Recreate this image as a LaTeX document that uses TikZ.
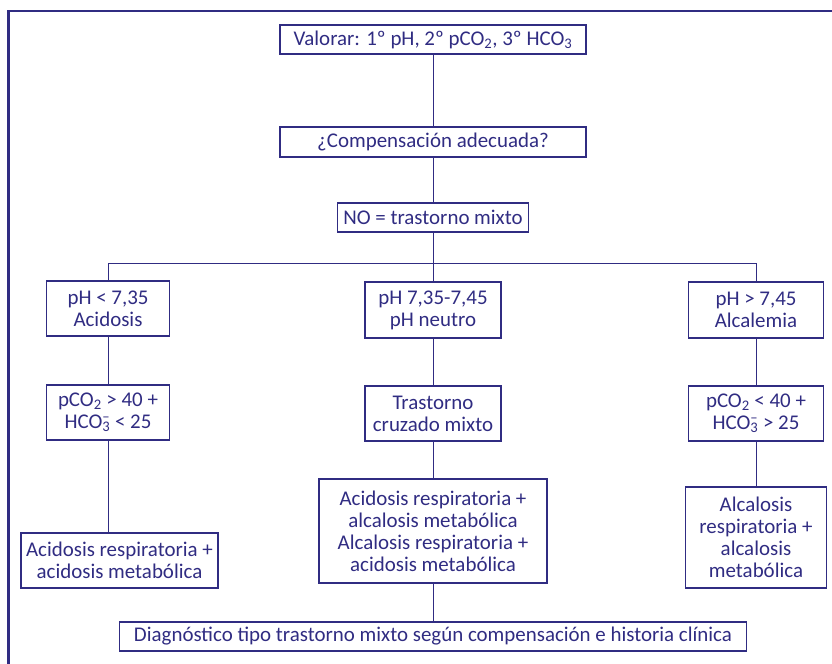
\documentclass[tikz,border=0pt]{standalone}
\usepackage{fontspec}
\setmainfont{Carlito}
\usepackage{xcolor}
\definecolor{inkblue}{HTML}{302C82}
\newcommand{\bicarb}{HCO\rlap{\textsuperscript{--}}\textsubscript{3}}

\begin{document}
\begin{tikzpicture}[x=1bp, y=-1bp,
    stepBox/.style={draw=inkblue, line width=1.1bp, text=inkblue, font=\fontsize{21}{22}\selectfont, align=center, inner sep=2bp},
    linkStyle/.style={draw=inkblue, line width=0.9bp}
]
    \useasboundingbox (0,0) rectangle (832,664);
    % page frame, cut by the picture edge
    \draw[inkblue, line width=2.6bp] (832,11) -- (8.5,11) -- (8.5,664);

    \node[stepBox, minimum width=306bp, minimum height=29bp] (valorar) at (433,39.5) {Valorar: 1º pH, 2º pCO\textsubscript{2}, 3º HCO\textsubscript{3}};
    \node[stepBox, minimum width=306bp, minimum height=30bp] (compensa) at (433,142) {¿Compensación adecuada?};
    \node[stepBox, minimum width=191bp, minimum height=29bp] (mixto) at (433,217.5) {NO = trastorno mixto};

    \node[stepBox, minimum width=123bp, minimum height=55bp] (acidosis) at (108,308.5) {pH < 7,35\\Acidosis};
    \node[stepBox, minimum width=136bp, minimum height=56bp] (neutro) at (433,310) {pH 7,35-7,45\\pH neutro};
    \node[stepBox, minimum width=135bp, minimum height=56bp] (alcalemia) at (756,310) {pH > 7,45\\Alcalemia};

    \node[stepBox, minimum width=123bp, minimum height=55bp] (acidGas) at (108,412.5) {pCO\textsubscript{2} > 40 +\\\bicarb{} < 25};
    \node[stepBox, minimum width=136bp, minimum height=55bp] (cruzado) at (433,413.5) {Trastorno\\cruzado mixto};
    \node[stepBox, minimum width=135bp, minimum height=55bp] (alcalGas) at (756,413.5) {pCO\textsubscript{2} < 40 +\\\bicarb{} > 25};

    \node[stepBox, minimum width=197bp, minimum height=55bp] (acidMixto) at (119.5,560.5) {Acidosis respiratoria +\\acidosis metabólica};
    \node[stepBox, minimum width=228bp, minimum height=104bp] (combos) at (433,531) {Acidosis respiratoria +\\alcalosis metabólica\\Alcalosis respiratoria +\\acidosis metabólica};
    \node[stepBox, minimum width=141bp, minimum height=101bp] (alcalMixto) at (756,537.5) {Alcalosis\\respiratoria +\\alcalosis\\metabólica};

    \node[stepBox, minimum width=627bp, minimum height=29bp] (diagnostico) at (433,636.5) {Diagnóstico tipo trastorno mixto según compensación e historia clínica};

    \coordinate (split) at (433,263);
    \draw[linkStyle] (valorar) -- (compensa) -- (mixto) -- (split);
    \draw[linkStyle] (split) -| (acidosis.north);
    \draw[linkStyle] (split) -- (neutro);
    \draw[linkStyle] (split) -| (alcalemia.north);
    \draw[linkStyle] (acidosis) -- (acidGas);
    \draw[linkStyle] (neutro) -- (cruzado);
    \draw[linkStyle] (alcalemia) -- (alcalGas);
    \draw[linkStyle] (acidGas.south) -- (acidGas.south |- acidMixto.north);
    \draw[linkStyle] (cruzado) -- (combos) -- (diagnostico);
    \draw[linkStyle] (alcalGas) -- (alcalMixto);
\end{tikzpicture}
\end{document}
